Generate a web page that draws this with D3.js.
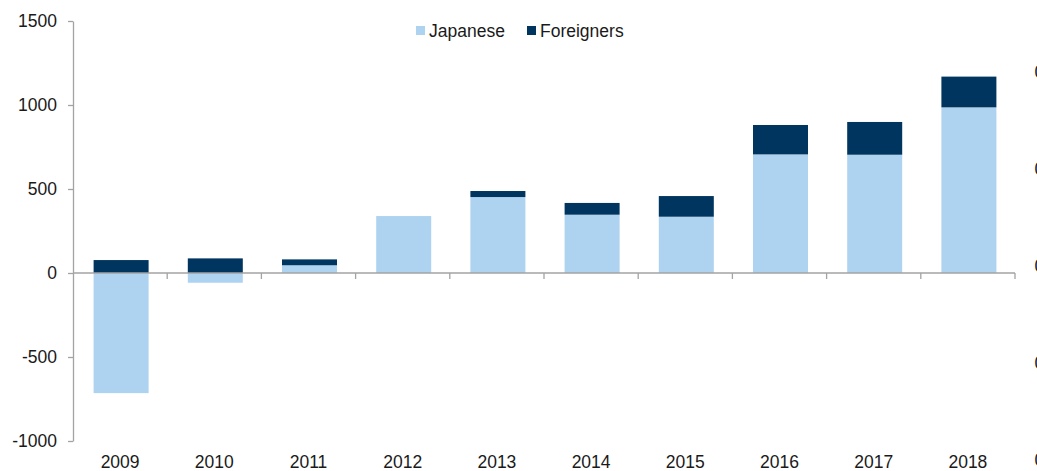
<!DOCTYPE html>
<html>
<head>
<meta charset="utf-8">
<script src="https://cdn.jsdelivr.net/npm/d3@7"></script>
<style>
  html, body { margin: 0; padding: 0; background: #ffffff; }
  #chart { width: 1037px; height: 471px; overflow: hidden; }
</style>
</head>
<body>
<div id="chart"></div>
<script>
// datos
const years = ["2009", "2010", "2011", "2012", "2013", "2014", "2015", "2016", "2017", "2018"];
const japanese = [-715, -58, 46, 339, 452, 347, 335, 706, 704, 986];
const foreigners = [77, 87, 35, 0, 36, 70, 123, 175, 195, 183];
const seriesNames = ["Japanese", "Foreigners"];
const yTicks = [-1000, -500, 0, 500, 1000, 1500];
// etiquetas del eje derecho, recortadas por el borde
const rightEdgeTicks = [20, 10, 0, -10, -20];

const width = 1037, height = 471;
const colorJap = "#aed3f0";
const colorFor = "#00355f";
const colorAxis = "#a3a3a3";
const colorTexto = "#1a1a1a";
const fuente = "'Liberation Sans', Arial, sans-serif";

const margin = { top: 21, right: 22, bottom: 30, left: 73 };
const innerW = width - margin.left - margin.right;
const innerH = height - margin.top - margin.bottom;

const rows = years.map((y, i) => ({ year: y, Japanese: japanese[i], Foreigners: foreigners[i] }));

const svg = d3.select("#chart").append("svg")
  .attr("width", width)
  .attr("height", height)
  .style("font-family", fuente);

const g = svg.append("g").attr("transform", `translate(${margin.left},${margin.top})`);

const xStep = d3.scaleBand().domain(years).range([0, innerW]);
const y = d3.scaleLinear().domain([-1000, 1500]).range([innerH, 0]);
const barW = 55;

const stack = d3.stack().keys(seriesNames).offset(d3.stackOffsetDiverging);
const stacked = stack(rows);
const colors = { Japanese: colorJap, Foreigners: colorFor };

// barras
g.selectAll("g.serie")
  .data(stacked)
  .join("g")
  .attr("class", "serie")
  .attr("fill", d => colors[d.key])
  .selectAll("rect")
  .data(d => d)
  .join("rect")
  .attr("x", d => xStep(d.data.year) + (xStep.bandwidth() - barW) / 2 + 1)
  .attr("width", barW)
  .attr("y", d => y(d[1]))
  .attr("height", d => Math.max(0, y(d[0]) - y(d[1])));

// eje Y
const yAxis = g.append("g")
  .call(d3.axisLeft(y).tickValues(yTicks).tickSize(5).tickPadding(11).tickSizeOuter(0)
    .tickFormat(d => String(d)));
yAxis.select(".domain").attr("stroke", colorAxis).attr("stroke-width", 1.3);
yAxis.selectAll(".tick line").attr("stroke", colorAxis).attr("stroke-width", 1.3);
yAxis.selectAll("text")
  .attr("fill", colorTexto)
  .attr("font-size", 17.5)
  .attr("font-family", fuente);

// eje X en cero, con marcas entre categorias
const xAxisG = g.append("g").attr("transform", `translate(0,${y(0)})`);
xAxisG.append("line")
  .attr("x1", 0).attr("x2", innerW)
  .attr("y1", 0).attr("y2", 0)
  .attr("stroke", colorAxis).attr("stroke-width", 1.6);
xAxisG.selectAll("line.tick")
  .data(years)
  .join("line")
  .attr("class", "tick")
  .attr("x1", d => xStep(d) + xStep.bandwidth())
  .attr("x2", d => xStep(d) + xStep.bandwidth())
  .attr("y1", 0).attr("y2", 6)
  .attr("stroke", colorAxis).attr("stroke-width", 1.3);

// etiquetas de años abajo
g.append("g")
  .selectAll("text")
  .data(years)
  .join("text")
  .attr("x", d => xStep(d) + xStep.bandwidth() / 2)
  .attr("y", innerH + 27)
  .attr("text-anchor", "middle")
  .attr("fill", colorTexto)
  .attr("font-size", 17.5)
  .text(d => d);

// eje derecho recortado por el borde (asi aparece en el original)
const y2 = d3.scaleLinear().domain([-20, 20]).range([460, 72]);
svg.append("g")
  .selectAll("text")
  .data(rightEdgeTicks)
  .join("text")
  .attr("x", 1034.5)
  .attr("y", d => y2(d))
  .attr("dy", "0.35em")
  .attr("fill", colorTexto)
  .attr("font-size", 17.5)
  .text(d => "0");

// leyenda
const legend = svg.append("g").attr("transform", "translate(416,26)");
const legendItems = [
  { name: "Japanese", color: colorJap, dx: 0 },
  { name: "Foreigners", color: colorFor, dx: 111 }
];
const li = legend.selectAll("g")
  .data(legendItems)
  .join("g")
  .attr("transform", d => `translate(${d.dx},0)`);
li.append("rect")
  .attr("width", 9).attr("height", 9)
  .attr("fill", d => d.color);
li.append("text")
  .attr("x", 13)
  .attr("y", 4.5)
  .attr("dy", "0.35em")
  .attr("fill", colorTexto)
  .attr("font-size", 17.5)
  .text(d => d.name);
</script>
</body>
</html>
